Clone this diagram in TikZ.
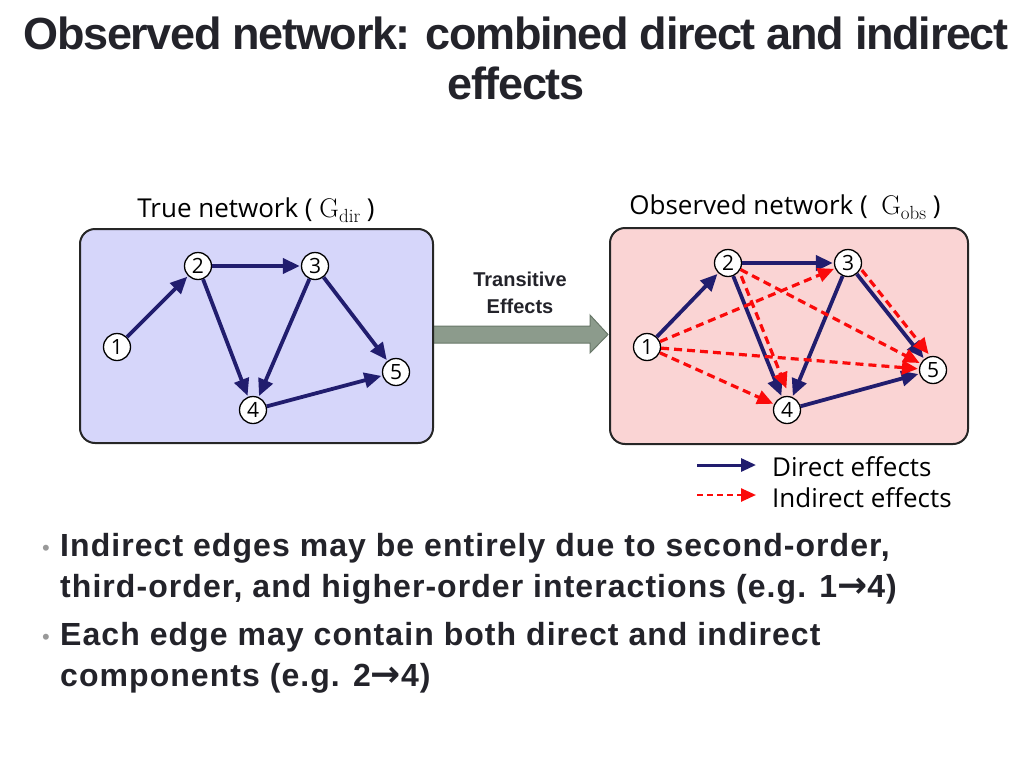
\documentclass[tikz,border=0pt]{standalone}
\usepackage[no-math]{fontspec}
\setmainfont{Liberation Sans}
\newfontfamily\titlefont{Liberation Sans}[LetterSpace=-3]
\newfontfamily\bulfont{Liberation Sans}[LetterSpace=3.3]
\newfontfamily\labfont{Open Sans}
\newfontfamily\arrfont{DejaVu Sans}
\newfontfamily\lmr{Latin Modern Roman}
\usetikzlibrary{arrows.meta,calc}
\definecolor{navy}{RGB}{33,29,110}
\definecolor{redind}{RGB}{250,10,10}
\definecolor{txt}{RGB}{35,35,42}
\definecolor{bluebg}{RGB}{214,214,250}
\definecolor{pinkbg}{RGB}{250,212,212}
\definecolor{arrfill}{RGB}{140,155,140}
\definecolor{arrdraw}{RGB}{105,120,105}
\tikzset{
  vtx/.style={circle,draw=black,line width=1.3pt,fill=white,minimum size=27pt,inner sep=0pt,font=\labfont\fontsize{21}{21}\selectfont},
  netbox/.style={draw=black!85,line width=2pt,rounded corners=15pt},
  dir/.style={draw=navy,line width=3.8pt,-{Triangle[length=17pt,width=15pt]},shorten >=1pt},
  ind/.style={draw=redind,line width=3.2pt,dash pattern=on 8pt off 5pt,-{Triangle[length=16pt,width=14pt]},shorten >=1pt},
  lab/.style={font=\labfont\fontsize{26}{28}\selectfont,anchor=base},
  bul/.style={font=\bulfont\bfseries\fontsize{32}{40}\selectfont,text=txt,anchor=base west,inner sep=0pt},
  dot/.style={font=\fontsize{22}{22}\selectfont,text=black!40,anchor=base,inner sep=0pt}
}
\newcommand{\rarr}{{\arrfont\bfseries\fontsize{36}{36}\selectfont →}}
\newcommand{\Gsub}[1]{{\lmr\fontsize{27}{27}\selectfont G\raisebox{-5pt}{\fontsize{19}{19}\selectfont #1}}}
\begin{document}
\begin{tikzpicture}[x=1pt,y=-1pt]
\useasboundingbox (0,0) rectangle (1024,768);
% title
\node[anchor=base,text=txt,font=\titlefont\bfseries\fontsize{45}{50}\selectfont,inner sep=0pt] (t1) at (516,49) {Observed network: combined direct and indirect};
\node[anchor=base,text=txt,font=\titlefont\bfseries\fontsize{45}{50}\selectfont,inner sep=0pt] (t2) at (516,99) {effects};
% transitive arrow
\draw[fill=arrfill,draw=arrdraw,line width=1pt] (433,326) -- (590,326) -- (590,315) -- (608,334.5) -- (590,353) -- (590,343) -- (433,343) -- cycle;
\node[font=\bfseries\fontsize{20}{27}\selectfont,text=txt,align=center] (te) at (520,293) {Transitive\\ Effects};
% boxes
\draw[netbox,fill=bluebg] (80,229) rectangle (433,443);
\draw[netbox,fill=pinkbg] (610,228) rectangle (968,444);
\node[lab] (ltrue) at (256,217) {True network ( \Gsub{dir} )};
\node[lab] (lobs) at (785,214) {Observed network ( \ \Gsub{obs} )};
% left graph
\node[vtx] (a1) at (117,347) {1};
\node[vtx] (a2) at (198,266) {2};
\node[vtx] (a3) at (315,266) {3};
\node[vtx] (a4) at (253,410) {4};
\node[vtx] (a5) at (396,372) {5};
\draw[dir] (a1) -- (a2);
\draw[dir] (a2) -- (a3);
\draw[dir] (a2) -- (a4);
\draw[dir] (a3) -- (a4);
\draw[dir] (a3) -- (a5);
\draw[dir] (a4) -- (a5);
% right graph
\node[vtx] (b1) at (647,347) {1};
\node[vtx] (b2) at (728,263) {2};
\node[vtx] (b3) at (848,263) {3};
\node[vtx] (b4) at (787,410) {4};
\node[vtx] (b5) at (933,370) {5};
\draw[dir] (b1) -- (b2);
\draw[dir] (b2) -- (b3);
\draw[dir] (b2) -- (b4);
\draw[dir] (b3) -- (b4);
\draw[dir] (b3) -- (b5);
\draw[dir] (b4) -- (b5);
\draw[ind] (b1) -- (b3);
\draw[ind] (b1) -- (b5);
\draw[ind] (b1) -- (b4);
\draw[ind] (b2) -- (b5);
\draw[ind,shorten >=9pt,transform canvas={xshift=8pt}] (b2) -- (b4);
\draw[ind,transform canvas={xshift=5pt,yshift=4pt}] (b3) -- (b5);
% legend
\coordinate (da) at (697,465);
\coordinate (db) at (757,465);
\coordinate (ia) at (697,495);
\coordinate (ib) at (757,495);
\draw[dir,line width=3pt,-{Triangle[length=15pt,width=13pt]}] (da) -- (db);
\draw[ind,line width=2.5pt,dash pattern=on 6pt off 4pt,-{Triangle[length=15pt,width=13pt]}] (ia) -- (ib);
\node[lab,anchor=base west,inner sep=0pt] (ld) at (772,476) {Direct effects};
\node[lab,anchor=base west,inner sep=0pt] (li) at (772,507) {Indirect effects};
% bullets
\node[dot] (d1) at (46,555) {•};
\node[bul] (x1) at (60,556) {Indirect edges may be entirely due to second-order,};
\node[bul] (x2) at (60,597) {third-order, and higher-order interactions (e.g. 1\rarr4)};
\node[dot] (d2) at (46,644) {•};
\node[bul] (x3) at (60,645) {Each edge may contain both direct and indirect};
\node[bul] (x4) at (60,686) {components (e.g. 2\rarr4)};
\end{tikzpicture}
\end{document}
